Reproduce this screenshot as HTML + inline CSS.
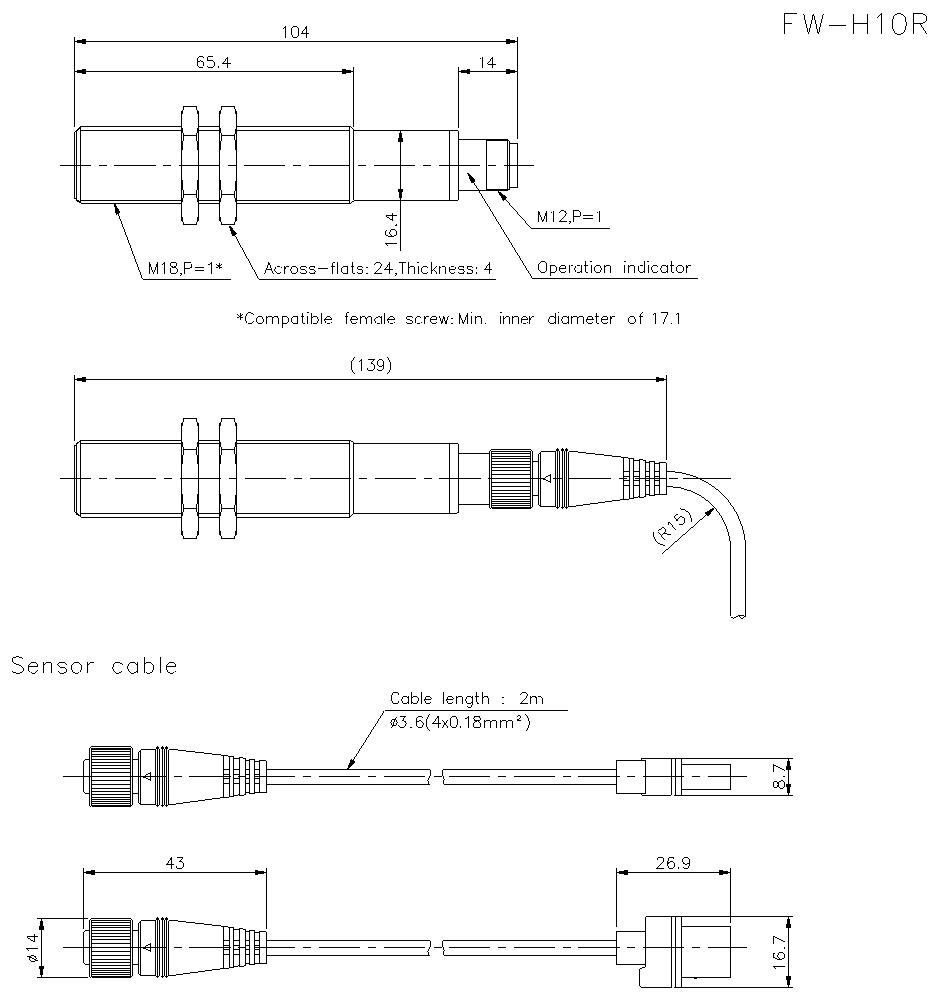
<!DOCTYPE html>
<html><head><meta charset="utf-8"><title>FW-H10R</title>
<style>
html,body{margin:0;padding:0;background:#fff;font-family:"Liberation Sans",sans-serif;overflow:hidden}
svg{display:block}
svg path,svg rect{fill:none;stroke:#000;stroke-width:0.99;stroke-linecap:butt;stroke-linejoin:miter}
svg .a{fill:#000;stroke:none}
svg circle.a{fill:#000;stroke:none}
</style></head><body>
<svg width="938" height="1000" viewBox="0 0 938 1000" shape-rendering="crispEdges">
<rect x="0" y="0" width="938" height="1000" style="fill:#fff;stroke:none"/>
<path d="M74.5,131.9 L80.5,126.4 L349.5,126.4 L353.5,130.3"/>
<path d="M76.5,129.5 L80.5,126.4"/>
<path d="M74.5,198.6 L80.5,203.2 L349.5,203.2 L353.5,200.3"/>
<path d="M76.5,201 L80.5,203.2"/>
<path d="M74.5,131.9 L74.5,198.6"/>
<path d="M76.5,129.5 L76.5,201"/>
<path d="M80.5,126.4 L80.5,203.2"/>
<path d="M80.5,130.3 L349.5,130.3"/>
<path d="M80.5,200.2 L349.5,200.2"/>
<path d="M349.5,126.4 L349.5,203.2"/>
<path d="M353.5,130.3 L353.5,200.3"/>
<path d="M353.5,130.3 L456.8,130.3 Q458.6,130.3 458.6,132.1 L458.6,198.5 Q458.6,200.3 456.8,200.3 L353.5,200.3"/>
<path d="M449.6,130.3 L449.6,200.3"/>
<path style="fill:#fff;stroke:none" d="M183.5,106.5 H196.5 L198.5,110.5 V220.5 L196.5,224.5 H183.5 L181.5,220.5 V110.5 Z"/>
<path d="M183,106.5 L197,106.5"/>
<path d="M183,224.5 L197,224.5"/>
<path d="M181.5,110.5 L181.5,220.5"/>
<path d="M198.5,110.5 L198.5,220.5"/>
<path d="M184,135.5 L196,135.5"/>
<path d="M184,194.5 L196,194.5"/>
<path d="M183.5,106.5 Q179.5,121 183.5,135.5"/>
<path d="M183.5,135.5 Q179.5,165 183.5,194.5"/>
<path d="M183.5,194.5 Q179.5,209.5 183.5,224.5"/>
<path d="M196.5,106.5 Q200.5,121 196.5,135.5"/>
<path d="M196.5,135.5 Q200.5,165 196.5,194.5"/>
<path d="M196.5,194.5 Q200.5,209.5 196.5,224.5"/>
<path style="fill:#fff;stroke:none" d="M221.5,106.5 H234.6 L236.6,110.5 V220.5 L234.6,224.5 H221.5 L219.5,220.5 V110.5 Z"/>
<path d="M221,106.5 L235.1,106.5"/>
<path d="M221,224.5 L235.1,224.5"/>
<path d="M219.5,110.5 L219.5,220.5"/>
<path d="M236.6,110.5 L236.6,220.5"/>
<path d="M222,135.5 L234.1,135.5"/>
<path d="M222,194.5 L234.1,194.5"/>
<path d="M221.5,106.5 Q217.5,121 221.5,135.5"/>
<path d="M221.5,135.5 Q217.5,165 221.5,194.5"/>
<path d="M221.5,194.5 Q217.5,209.5 221.5,224.5"/>
<path d="M234.6,106.5 Q238.6,121 234.6,135.5"/>
<path d="M234.6,135.5 Q238.6,165 234.6,194.5"/>
<path d="M234.6,194.5 Q238.6,209.5 234.6,224.5"/>
<path d="M458.6,139.5 L486.4,139.5"/>
<path d="M458.6,190.4 L486.4,190.4"/>
<path d="M486.4,139.5 L508,139.5 L509.5,141 L509.5,189 L508,190.4 L486.4,190.4 Z"/>
<path d="M486.4,140.7 L508.6,140.7"/>
<path d="M486.4,189.2 L508.6,189.2"/>
<path d="M507.7,139.5 L507.7,190.4"/>
<path d="M509.5,143.2 L517.6,143.2 L517.6,187.4 L509.5,187.4"/>
<path class="c" stroke-dasharray="41.1 7.9 8 7.9" stroke-dashoffset="10.5" d="M60,165.4 L534,165.4"/>
<path d="M74.3,37 L74.3,127.3"/>
<path d="M517.5,37 L517.5,138.7"/>
<path d="M74.3,41.3 L517.5,41.3"/>
<path class="a" d="M76.8,40 L82.3,40 L82.3,39 L85.6,39 L85.6,44 L82.3,44 L82.3,43 L76.8,43 Z"/>
<path class="a" d="M515,43 L509.5,43 L509.5,44 L506.2,44 L506.2,39 L509.5,39 L509.5,40 L515,40 Z"/>
<path d="M353.5,67 L353.5,126.5"/>
<path d="M74.3,71.3 L353.5,71.3"/>
<path class="a" d="M76.8,70 L82.3,70 L82.3,69 L85.6,69 L85.6,74 L82.3,74 L82.3,73 L76.8,73 Z"/>
<path class="a" d="M351,73 L345.5,73 L345.5,74 L342.2,74 L342.2,69 L345.5,69 L345.5,70 L351,70 Z"/>
<path d="M458.5,67 L458.5,127.5"/>
<path d="M458.5,71.4 L517.5,71.4"/>
<path class="a" d="M461,70 L466.5,70 L466.5,69 L469.8,69 L469.8,74 L466.5,74 L466.5,73 L461,73 Z"/>
<path class="a" d="M515,73 L509.5,73 L509.5,74 L506.2,74 L506.2,69 L509.5,69 L509.5,70 L515,70 Z"/>
<path class="t" stroke-width="0.99" d="M283.1,28.49 L284.16,27.96 L285.75,26.37 L285.75,37.5 M294.61,26.37 L293.02,26.9 L291.96,28.49 L291.43,31.14 L291.43,32.73 L291.96,35.38 L293.02,36.97 L294.61,37.5 L295.67,37.5 L297.26,36.97 L298.32,35.38 L298.85,32.73 L298.85,31.14 L298.32,28.49 L297.26,26.9 L295.67,26.37 L294.61,26.37 M306.65,26.37 L301.35,33.79 L309.3,33.79 M306.65,26.37 L306.65,37.5"/>
<path class="t" stroke-width="0.99" d="M203.46,58.16 L202.93,57.1 L201.34,56.57 L200.28,56.57 L198.69,57.1 L197.63,58.69 L197.1,61.34 L197.1,63.99 L197.63,66.11 L198.69,67.17 L200.28,67.7 L200.81,67.7 L202.4,67.17 L203.46,66.11 L203.99,64.52 L203.99,63.99 L203.46,62.4 L202.4,61.34 L200.81,60.81 L200.28,60.81 L198.69,61.34 L197.63,62.4 L197.1,63.99 M213.36,56.57 L208.06,56.57 L207.53,61.34 L208.06,60.81 L209.65,60.28 L211.24,60.28 L212.83,60.81 L213.89,61.87 L214.42,63.46 L214.42,64.52 L213.89,66.11 L212.83,67.17 L211.24,67.7 L209.65,67.7 L208.06,67.17 L207.53,66.64 L207,65.58 M218.22,66.85 L218.75,66.85 L218.75,67.7 L218.22,67.7 L218.22,66.85 M227.85,56.57 L222.55,63.99 L230.5,63.99 M227.85,56.57 L227.85,67.7"/>
<path class="t" stroke-width="0.99" d="M480.3,58.79 L481.36,58.26 L482.95,56.67 L482.95,67.8 M492.85,56.67 L487.55,64.09 L495.5,64.09 M492.85,56.67 L492.85,67.8"/>
<path d="M400.6,130.3 L400.6,250.7"/>
<path class="a" d="M402,132.8 L402,138.3 L403,138.3 L403,141.6 L398,141.6 L398,138.3 L399,138.3 L399,132.8 Z"/>
<path class="a" d="M399,197.8 L399,192.3 L398,192.3 L398,189 L403,189 L403,192.3 L402,192.3 L402,197.8 Z"/>
<path class="t" stroke-width="0.99" transform="translate(396.7,249.1) rotate(-90)" d="M3.18,-9.01 L4.24,-9.54 L5.83,-11.13 L5.83,0 M19.08,-9.54 L18.55,-10.6 L16.96,-11.13 L15.9,-11.13 L14.31,-10.6 L13.25,-9.01 L12.72,-6.36 L12.72,-3.71 L13.25,-1.59 L14.31,-0.53 L15.9,0 L16.43,0 L18.02,-0.53 L19.08,-1.59 L19.61,-3.18 L19.61,-3.71 L19.08,-5.3 L18.02,-6.36 L16.43,-6.89 L15.9,-6.89 L14.31,-6.36 L13.25,-5.3 L12.72,-3.71 M23.59,-0.85 L24.12,-0.85 L24.12,0 L23.59,0 L23.59,-0.85 M33.39,-11.13 L28.09,-3.71 L36.04,-3.71 M33.39,-11.13 L33.39,0"/>
<path d="M114.5,203.8 L142.5,279"/>
<path d="M142.5,279 L231,279"/>
<path class="a" d="M115.06,203.59 L120.71,213.01 L115.83,214.83 L113.94,204.01 Z"/>
<path class="t" stroke-width="0.99" d="M149.3,262.47 L149.3,273.6 M149.3,262.47 L153.54,273.6 M157.78,262.47 L153.54,273.6 M157.78,262.47 L157.78,273.6 M162.07,264.59 L163.13,264.06 L164.72,262.47 L164.72,273.6 M172.71,262.47 L171.12,263 L170.59,264.06 L170.59,265.12 L171.12,266.18 L172.18,266.71 L174.3,267.24 L175.89,267.77 L176.95,268.83 L177.48,269.89 L177.48,271.48 L176.95,272.54 L176.42,273.07 L174.83,273.6 L172.71,273.6 L171.12,273.07 L170.59,272.54 L170.06,271.48 L170.06,269.89 L170.59,268.83 L171.65,267.77 L173.24,267.24 L175.36,266.71 L176.42,266.18 L176.95,265.12 L176.95,264.06 L176.42,263 L174.83,262.47 L172.71,262.47 M181.24,273.07 L180.71,273.6 L180.18,273.07 L180.71,272.54 L181.24,273.07 L181.24,274.13 L180.71,275.19 L180.18,275.72 M184.46,262.47 L184.46,273.6 M184.46,262.47 L189.23,262.47 L190.82,263 L191.35,263.53 L191.88,264.59 L191.88,266.18 L191.35,267.24 L190.82,267.77 L189.23,268.3 L184.46,268.3 M194.58,267.24 L204.12,267.24 M194.58,270.42 L204.12,270.42 M208.4,264.59 L209.46,264.06 L211.05,262.47 L211.05,273.6 M219.05,263 L219.05,269.36 M216.4,264.59 L221.7,267.77 M221.7,264.59 L216.4,267.77"/>
<path d="M229.5,225.6 L258.7,279"/>
<path d="M258.7,279 L495.8,279"/>
<path class="a" d="M230.03,225.31 L236.96,233.83 L232.4,236.32 L228.97,225.89 Z"/>
<path class="t" stroke-width="0.99" d="M268.94,262.47 L264.7,273.6 M268.94,262.47 L273.18,273.6 M266.29,269.89 L271.59,269.89 M281.34,267.77 L280.28,266.71 L279.22,266.18 L277.63,266.18 L276.57,266.71 L275.51,267.77 L274.98,269.36 L274.98,270.42 L275.51,272.01 L276.57,273.07 L277.63,273.6 L279.22,273.6 L280.28,273.07 L281.34,272.01 M284.73,266.18 L284.73,273.6 M284.73,269.36 L285.26,267.77 L286.32,266.71 L287.38,266.18 L288.97,266.18 M293.41,266.18 L292.35,266.71 L291.29,267.77 L290.76,269.36 L290.76,270.42 L291.29,272.01 L292.35,273.07 L293.41,273.6 L295,273.6 L296.06,273.07 L297.12,272.01 L297.65,270.42 L297.65,269.36 L297.12,267.77 L296.06,266.71 L295,266.18 L293.41,266.18 M306.34,267.77 L305.81,266.71 L304.22,266.18 L302.63,266.18 L301.04,266.71 L300.51,267.77 L301.04,268.83 L302.1,269.36 L304.75,269.89 L305.81,270.42 L306.34,271.48 L306.34,272.01 L305.81,273.07 L304.22,273.6 L302.63,273.6 L301.04,273.07 L300.51,272.01 M315.03,267.77 L314.5,266.71 L312.91,266.18 L311.32,266.18 L309.73,266.71 L309.2,267.77 L309.73,268.83 L310.79,269.36 L313.44,269.89 L314.5,270.42 L315.03,271.48 L315.03,272.01 L314.5,273.07 L312.91,273.6 L311.32,273.6 L309.73,273.07 L309.2,272.01 M318.42,268.83 L327.96,268.83 M335.06,262.47 L334,262.47 L332.94,263 L332.41,264.59 L332.41,273.6 M330.82,266.18 L334.53,266.18 M337.91,262.47 L337.91,273.6 M347.66,266.18 L347.66,273.6 M347.66,267.77 L346.6,266.71 L345.54,266.18 L343.95,266.18 L342.89,266.71 L341.83,267.77 L341.3,269.36 L341.3,270.42 L341.83,272.01 L342.89,273.07 L343.95,273.6 L345.54,273.6 L346.6,273.07 L347.66,272.01 M352.11,262.47 L352.11,271.48 L352.64,273.07 L353.7,273.6 L354.76,273.6 M350.52,266.18 L354.23,266.18 M362.92,267.77 L362.39,266.71 L360.8,266.18 L359.21,266.18 L357.62,266.71 L357.09,267.77 L357.62,268.83 L358.68,269.36 L361.33,269.89 L362.39,270.42 L362.92,271.48 L362.92,272.01 L362.39,273.07 L360.8,273.6 L359.21,273.6 L357.62,273.07 L357.09,272.01 M366.57,267.45 L367.1,267.45 L367.1,268.3 L366.57,268.3 L366.57,267.45 M366.57,272.75 L367.1,272.75 L367.1,273.6 L366.57,273.6 L366.57,272.75"/>
<path class="t" stroke-width="0.99" d="M374.93,265.12 L374.93,264.59 L375.46,263.53 L375.99,263 L377.05,262.47 L379.17,262.47 L380.23,263 L380.76,263.53 L381.29,264.59 L381.29,265.65 L380.76,266.71 L379.7,268.3 L374.4,273.6 L381.82,273.6 M389.94,262.47 L384.64,269.89 L392.59,269.89 M389.94,262.47 L389.94,273.6 M396.47,273.07 L395.94,273.6 L395.41,273.07 L395.94,272.54 L396.47,273.07 L396.47,274.13 L395.94,275.19 L395.41,275.72 M402.48,262.47 L402.48,273.6 M398.77,262.47 L406.19,262.47 M408.48,262.47 L408.48,273.6 M408.48,268.3 L410.07,266.71 L411.13,266.18 L412.72,266.18 L413.78,266.71 L414.31,268.3 L414.31,273.6 M417.66,262.47 L418.19,263 L418.72,262.47 L418.19,261.94 L417.66,262.47 M418.19,266.18 L418.19,273.6 M427.9,267.77 L426.84,266.71 L425.78,266.18 L424.19,266.18 L423.13,266.71 L422.07,267.77 L421.54,269.36 L421.54,270.42 L422.07,272.01 L423.13,273.07 L424.19,273.6 L425.78,273.6 L426.84,273.07 L427.9,272.01 M431.25,262.47 L431.25,273.6 M436.55,266.18 L431.25,271.48 M433.37,269.36 L437.08,273.6 M439.91,266.18 L439.91,273.6 M439.91,268.3 L441.5,266.71 L442.56,266.18 L444.15,266.18 L445.21,266.71 L445.74,268.3 L445.74,273.6 M449.09,269.36 L455.45,269.36 L455.45,268.3 L454.92,267.24 L454.39,266.71 L453.33,266.18 L451.74,266.18 L450.68,266.71 L449.62,267.77 L449.09,269.36 L449.09,270.42 L449.62,272.01 L450.68,273.07 L451.74,273.6 L453.33,273.6 L454.39,273.07 L455.45,272.01 M464.1,267.77 L463.57,266.71 L461.98,266.18 L460.39,266.18 L458.8,266.71 L458.27,267.77 L458.8,268.83 L459.86,269.36 L462.51,269.89 L463.57,270.42 L464.1,271.48 L464.1,272.01 L463.57,273.07 L461.98,273.6 L460.39,273.6 L458.8,273.07 L458.27,272.01 M472.75,267.77 L472.22,266.71 L470.63,266.18 L469.04,266.18 L467.45,266.71 L466.92,267.77 L467.45,268.83 L468.51,269.36 L471.16,269.89 L472.22,270.42 L472.75,271.48 L472.75,272.01 L472.22,273.07 L470.63,273.6 L469.04,273.6 L467.45,273.07 L466.92,272.01 M476.37,267.45 L476.9,267.45 L476.9,268.3 L476.37,268.3 L476.37,267.45 M476.37,272.75 L476.9,272.75 L476.9,273.6 L476.37,273.6 L476.37,272.75"/>
<path class="t" stroke-width="0.99" d="M489.8,262.47 L484.5,269.89 L492.45,269.89 M489.8,262.47 L489.8,273.6"/>
<path d="M498.1,191.2 L531.2,228.4"/>
<path d="M531.2,228.4 L610,228.4"/>
<path class="a" d="M498.55,190.8 L507.22,197.54 L503.34,201 L497.65,191.6 Z"/>
<path class="t" stroke-width="0.99" d="M538.5,210.77 L538.5,221.9 M538.5,210.77 L542.74,221.9 M546.98,210.77 L542.74,221.9 M546.98,210.77 L546.98,221.9 M551.19,212.89 L552.25,212.36 L553.84,210.77 L553.84,221.9 M559.64,213.42 L559.64,212.89 L560.17,211.83 L560.7,211.3 L561.76,210.77 L563.88,210.77 L564.94,211.3 L565.47,211.83 L566,212.89 L566,213.95 L565.47,215.01 L564.41,216.6 L559.11,221.9 L566.53,221.9 M570.21,221.37 L569.68,221.9 L569.15,221.37 L569.68,220.84 L570.21,221.37 L570.21,222.43 L569.68,223.49 L569.15,224.02 M573.36,210.77 L573.36,221.9 M573.36,210.77 L578.13,210.77 L579.72,211.3 L580.25,211.83 L580.78,212.89 L580.78,214.48 L580.25,215.54 L579.72,216.07 L578.13,216.6 L573.36,216.6 M583.4,215.54 L592.94,215.54 M583.4,218.72 L592.94,218.72 M597.15,212.89 L598.21,212.36 L599.8,210.77 L599.8,221.9"/>
<path d="M467.9,173 L532.4,278.3"/>
<path d="M532.4,278.3 L697.7,278.3"/>
<path class="a" d="M468.41,172.69 L475.76,180.85 L471.32,183.57 L467.39,173.31 Z"/>
<path class="t" stroke-width="0.99" d="M541.68,261.47 L540.62,262 L539.56,263.06 L539.03,264.12 L538.5,265.71 L538.5,268.36 L539.03,269.95 L539.56,271.01 L540.62,272.07 L541.68,272.6 L543.8,272.6 L544.86,272.07 L545.92,271.01 L546.45,269.95 L546.98,268.36 L546.98,265.71 L546.45,264.12 L545.92,263.06 L544.86,262 L543.8,261.47 L541.68,261.47 M550.26,265.18 L550.26,276.31 M550.26,266.77 L551.32,265.71 L552.38,265.18 L553.97,265.18 L555.03,265.71 L556.09,266.77 L556.62,268.36 L556.62,269.42 L556.09,271.01 L555.03,272.07 L553.97,272.6 L552.38,272.6 L551.32,272.07 L550.26,271.01 M559.37,268.36 L565.72,268.36 L565.72,267.3 L565.19,266.24 L564.66,265.71 L563.6,265.18 L562.01,265.18 L560.95,265.71 L559.89,266.77 L559.37,268.36 L559.37,269.42 L559.89,271.01 L560.95,272.07 L562.01,272.6 L563.6,272.6 L564.66,272.07 L565.72,271.01 M569,265.18 L569,272.6 M569,268.36 L569.53,266.77 L570.59,265.71 L571.65,265.18 L573.24,265.18 M581.29,265.18 L581.29,272.6 M581.29,266.77 L580.23,265.71 L579.17,265.18 L577.58,265.18 L576.52,265.71 L575.46,266.77 L574.93,268.36 L574.93,269.42 L575.46,271.01 L576.52,272.07 L577.58,272.6 L579.17,272.6 L580.23,272.07 L581.29,271.01 M585.63,261.47 L585.63,270.48 L586.16,272.07 L587.22,272.6 L588.28,272.6 M584.04,265.18 L587.75,265.18 M590.49,261.47 L591.02,262 L591.55,261.47 L591.02,260.94 L590.49,261.47 M591.02,265.18 L591.02,272.6 M596.95,265.18 L595.89,265.71 L594.83,266.77 L594.3,268.36 L594.3,269.42 L594.83,271.01 L595.89,272.07 L596.95,272.6 L598.54,272.6 L599.6,272.07 L600.66,271.01 L601.19,269.42 L601.19,268.36 L600.66,266.77 L599.6,265.71 L598.54,265.18 L596.95,265.18 M604.47,265.18 L604.47,272.6 M604.47,267.3 L606.06,265.71 L607.12,265.18 L608.71,265.18 L609.77,265.71 L610.3,267.3 L610.3,272.6"/>
<path class="t" stroke-width="0.99" d="M624.4,261.47 L624.93,262 L625.46,261.47 L624.93,260.94 L624.4,261.47 M624.93,265.18 L624.93,272.6 M628.83,265.18 L628.83,272.6 M628.83,267.3 L630.42,265.71 L631.48,265.18 L633.07,265.18 L634.13,265.71 L634.66,267.3 L634.66,272.6 M644.39,261.47 L644.39,272.6 M644.39,266.77 L643.33,265.71 L642.27,265.18 L640.68,265.18 L639.62,265.71 L638.56,266.77 L638.03,268.36 L638.03,269.42 L638.56,271.01 L639.62,272.07 L640.68,272.6 L642.27,272.6 L643.33,272.07 L644.39,271.01 M647.76,261.47 L648.29,262 L648.82,261.47 L648.29,260.94 L647.76,261.47 M648.29,265.18 L648.29,272.6 M658.01,266.77 L656.95,265.71 L655.89,265.18 L654.3,265.18 L653.25,265.71 L652.18,266.77 L651.65,268.36 L651.65,269.42 L652.18,271.01 L653.25,272.07 L654.3,272.6 L655.89,272.6 L656.95,272.07 L658.01,271.01 M667.21,265.18 L667.21,272.6 M667.21,266.77 L666.15,265.71 L665.09,265.18 L663.5,265.18 L662.44,265.71 L661.38,266.77 L660.85,268.36 L660.85,269.42 L661.38,271.01 L662.44,272.07 L663.5,272.6 L665.09,272.6 L666.15,272.07 L667.21,271.01 M671.64,261.47 L671.64,270.48 L672.17,272.07 L673.23,272.6 L674.29,272.6 M670.05,265.18 L673.76,265.18 M679.25,265.18 L678.19,265.71 L677.13,266.77 L676.6,268.36 L676.6,269.42 L677.13,271.01 L678.19,272.07 L679.25,272.6 L680.84,272.6 L681.9,272.07 L682.96,271.01 L683.49,269.42 L683.49,268.36 L682.96,266.77 L681.9,265.71 L680.84,265.18 L679.25,265.18 M686.86,265.18 L686.86,272.6 M686.86,268.36 L687.39,266.77 L688.45,265.71 L689.51,265.18 L691.1,265.18"/>
<path class="t" stroke-width="0.99" d="M240.05,313.3 L240.05,319.66 M237.4,314.89 L242.7,318.07 M242.7,314.89 L237.4,318.07 M253.52,315.42 L252.99,314.36 L251.93,313.3 L250.87,312.77 L248.75,312.77 L247.69,313.3 L246.63,314.36 L246.1,315.42 L245.57,317.01 L245.57,319.66 L246.1,321.25 L246.63,322.31 L247.69,323.37 L248.75,323.9 L250.87,323.9 L251.93,323.37 L252.99,322.31 L253.52,321.25 M259.04,316.48 L257.98,317.01 L256.92,318.07 L256.39,319.66 L256.39,320.72 L256.92,322.31 L257.98,323.37 L259.04,323.9 L260.63,323.9 L261.69,323.37 L262.75,322.31 L263.28,320.72 L263.28,319.66 L262.75,318.07 L261.69,317.01 L260.63,316.48 L259.04,316.48 M266.68,316.48 L266.68,323.9 M266.68,318.6 L268.27,317.01 L269.33,316.48 L270.92,316.48 L271.98,317.01 L272.51,318.6 L272.51,323.9 M272.51,318.6 L274.1,317.01 L275.16,316.48 L276.75,316.48 L277.81,317.01 L278.34,318.6 L278.34,323.9 M282.27,316.48 L282.27,327.61 M282.27,318.07 L283.33,317.01 L284.39,316.48 L285.98,316.48 L287.04,317.01 L288.1,318.07 L288.63,319.66 L288.63,320.72 L288.1,322.31 L287.04,323.37 L285.98,323.9 L284.39,323.9 L283.33,323.37 L282.27,322.31 M297.87,316.48 L297.87,323.9 M297.87,318.07 L296.81,317.01 L295.75,316.48 L294.16,316.48 L293.1,317.01 L292.04,318.07 L291.5,319.66 L291.5,320.72 L292.04,322.31 L293.1,323.37 L294.16,323.9 L295.75,323.9 L296.81,323.37 L297.87,322.31 M302.33,312.77 L302.33,321.78 L302.86,323.37 L303.92,323.9 L304.98,323.9 M300.74,316.48 L304.45,316.48 M307.32,312.77 L307.85,313.3 L308.38,312.77 L307.85,312.24 L307.32,312.77 M307.85,316.48 L307.85,323.9 M311.78,312.77 L311.78,323.9 M311.78,318.07 L312.84,317.01 L313.9,316.48 L315.49,316.48 L316.55,317.01 L317.61,318.07 L318.14,319.66 L318.14,320.72 L317.61,322.31 L316.55,323.37 L315.49,323.9 L313.9,323.9 L312.84,323.37 L311.78,322.31 M321.54,312.77 L321.54,323.9 M324.94,319.66 L331.3,319.66 L331.3,318.6 L330.77,317.54 L330.24,317.01 L329.18,316.48 L327.59,316.48 L326.53,317.01 L325.47,318.07 L324.94,319.66 L324.94,320.72 L325.47,322.31 L326.53,323.37 L327.59,323.9 L329.18,323.9 L330.24,323.37 L331.3,322.31"/>
<path class="t" stroke-width="0.99" d="M348.74,312.77 L347.68,312.77 L346.62,313.3 L346.09,314.89 L346.09,323.9 M344.5,316.48 L348.21,316.48 M350.75,319.66 L357.11,319.66 L357.11,318.6 L356.58,317.54 L356.05,317.01 L354.99,316.48 L353.4,316.48 L352.34,317.01 L351.28,318.07 L350.75,319.66 L350.75,320.72 L351.28,322.31 L352.34,323.37 L353.4,323.9 L354.99,323.9 L356.05,323.37 L357.11,322.31 M360.18,316.48 L360.18,323.9 M360.18,318.6 L361.77,317.01 L362.83,316.48 L364.42,316.48 L365.48,317.01 L366.01,318.6 L366.01,323.9 M366.01,318.6 L367.6,317.01 L368.66,316.48 L370.25,316.48 L371.31,317.01 L371.84,318.6 L371.84,323.9 M381.27,316.48 L381.27,323.9 M381.27,318.07 L380.21,317.01 L379.15,316.48 L377.56,316.48 L376.5,317.01 L375.44,318.07 L374.91,319.66 L374.91,320.72 L375.44,322.31 L376.5,323.37 L377.56,323.9 L379.15,323.9 L380.21,323.37 L381.27,322.31 M384.87,312.77 L384.87,323.9 M387.94,319.66 L394.3,319.66 L394.3,318.6 L393.77,317.54 L393.24,317.01 L392.18,316.48 L390.59,316.48 L389.53,317.01 L388.47,318.07 L387.94,319.66 L387.94,320.72 L388.47,322.31 L389.53,323.37 L390.59,323.9 L392.18,323.9 L393.24,323.37 L394.3,322.31"/>
<path class="t" stroke-width="0.99" d="M412.33,318.07 L411.8,317.01 L410.21,316.48 L408.62,316.48 L407.03,317.01 L406.5,318.07 L407.03,319.13 L408.09,319.66 L410.74,320.19 L411.8,320.72 L412.33,321.78 L412.33,322.31 L411.8,323.37 L410.21,323.9 L408.62,323.9 L407.03,323.37 L406.5,322.31 M421.4,318.07 L420.34,317.01 L419.28,316.48 L417.69,316.48 L416.63,317.01 L415.57,318.07 L415.04,319.66 L415.04,320.72 L415.57,322.31 L416.63,323.37 L417.69,323.9 L419.28,323.9 L420.34,323.37 L421.4,322.31 M424.63,316.48 L424.63,323.9 M424.63,319.66 L425.16,318.07 L426.22,317.01 L427.28,316.48 L428.87,316.48 M430.52,319.66 L436.88,319.66 L436.88,318.6 L436.35,317.54 L435.82,317.01 L434.76,316.48 L433.17,316.48 L432.11,317.01 L431.05,318.07 L430.52,319.66 L430.52,320.72 L431.05,322.31 L432.11,323.37 L433.17,323.9 L434.76,323.9 L435.82,323.37 L436.88,322.31 M439.59,316.48 L441.71,323.9 M443.83,316.48 L441.71,323.9 M443.83,316.48 L445.95,323.9 M448.07,316.48 L445.95,323.9 M451.57,317.75 L452.1,317.75 L452.1,318.6 L451.57,318.6 L451.57,317.75 M451.57,323.05 L452.1,323.05 L452.1,323.9 L451.57,323.9 L451.57,323.05"/>
<path class="t" stroke-width="0.99" d="M459.2,312.77 L459.2,323.9 M459.2,312.77 L463.44,323.9 M467.68,312.77 L463.44,323.9 M467.68,312.77 L467.68,323.9 M470.98,312.77 L471.51,313.3 L472.04,312.77 L471.51,312.24 L470.98,312.77 M471.51,316.48 L471.51,323.9 M475.34,316.48 L475.34,323.9 M475.34,318.6 L476.93,317.01 L477.99,316.48 L479.58,316.48 L480.64,317.01 L481.17,318.6 L481.17,323.9 M485.27,323.05 L485.8,323.05 L485.8,323.9 L485.27,323.9 L485.27,323.05"/>
<path class="t" stroke-width="0.99" d="M500.4,312.77 L500.93,313.3 L501.46,312.77 L500.93,312.24 L500.4,312.77 M500.93,316.48 L500.93,323.9 M503.95,316.48 L503.95,323.9 M503.95,318.6 L505.54,317.01 L506.6,316.48 L508.19,316.48 L509.25,317.01 L509.78,318.6 L509.78,323.9 M512.8,316.48 L512.8,323.9 M512.8,318.6 L514.38,317.01 L515.45,316.48 L517.04,316.48 L518.1,317.01 L518.62,318.6 L518.62,323.9 M521.11,319.66 L527.47,319.66 L527.47,318.6 L526.94,317.54 L526.41,317.01 L525.35,316.48 L523.76,316.48 L522.7,317.01 L521.64,318.07 L521.11,319.66 L521.11,320.72 L521.64,322.31 L522.7,323.37 L523.76,323.9 L525.35,323.9 L526.41,323.37 L527.47,322.31 M529.96,316.48 L529.96,323.9 M529.96,319.66 L530.49,318.07 L531.55,317.01 L532.61,316.48 L534.2,316.48"/>
<path class="t" stroke-width="0.99" d="M555.06,312.77 L555.06,323.9 M555.06,318.07 L554,317.01 L552.94,316.48 L551.35,316.48 L550.29,317.01 L549.23,318.07 L548.7,319.66 L548.7,320.72 L549.23,322.31 L550.29,323.37 L551.35,323.9 L552.94,323.9 L554,323.37 L555.06,322.31 M558.19,312.77 L558.72,313.3 L559.25,312.77 L558.72,312.24 L558.19,312.77 M558.72,316.48 L558.72,323.9 M568.2,316.48 L568.2,323.9 M568.2,318.07 L567.14,317.01 L566.08,316.48 L564.49,316.48 L563.43,317.01 L562.37,318.07 L561.84,319.66 L561.84,320.72 L562.37,322.31 L563.43,323.37 L564.49,323.9 L566.08,323.9 L567.14,323.37 L568.2,322.31 M571.86,316.48 L571.86,323.9 M571.86,318.6 L573.45,317.01 L574.51,316.48 L576.1,316.48 L577.16,317.01 L577.69,318.6 L577.69,323.9 M577.69,318.6 L579.28,317.01 L580.34,316.48 L581.93,316.48 L582.99,317.01 L583.52,318.6 L583.52,323.9 M586.64,319.66 L593,319.66 L593,318.6 L592.47,317.54 L591.94,317.01 L590.88,316.48 L589.29,316.48 L588.23,317.01 L587.17,318.07 L586.64,319.66 L586.64,320.72 L587.17,322.31 L588.23,323.37 L589.29,323.9 L590.88,323.9 L591.94,323.37 L593,322.31 M596.66,312.77 L596.66,321.78 L597.19,323.37 L598.25,323.9 L599.31,323.9 M595.07,316.48 L598.78,316.48 M601.37,319.66 L607.73,319.66 L607.73,318.6 L607.2,317.54 L606.67,317.01 L605.61,316.48 L604.02,316.48 L602.96,317.01 L601.9,318.07 L601.37,319.66 L601.37,320.72 L601.9,322.31 L602.96,323.37 L604.02,323.9 L605.61,323.9 L606.67,323.37 L607.73,322.31 M610.86,316.48 L610.86,323.9 M610.86,319.66 L611.39,318.07 L612.45,317.01 L613.51,316.48 L615.1,316.48"/>
<path class="t" stroke-width="0.99" d="M631.05,316.48 L629.99,317.01 L628.93,318.07 L628.4,319.66 L628.4,320.72 L628.93,322.31 L629.99,323.37 L631.05,323.9 L632.64,323.9 L633.7,323.37 L634.76,322.31 L635.29,320.72 L635.29,319.66 L634.76,318.07 L633.7,317.01 L632.64,316.48 L631.05,316.48 M643.3,312.77 L642.24,312.77 L641.18,313.3 L640.65,314.89 L640.65,323.9 M639.06,316.48 L642.77,316.48"/>
<path class="t" stroke-width="0.99" d="M652.9,314.89 L653.96,314.36 L655.55,312.77 L655.55,323.9 M668.18,312.77 L662.88,323.9 M660.76,312.77 L668.18,312.77 M671.01,323.05 L671.54,323.05 L671.54,323.9 L671.01,323.9 L671.01,323.05 M675.95,314.89 L677.01,314.36 L678.6,312.77 L678.6,323.9"/>
<path class="t" stroke-width="0.99" d="M784,13.61 L784,34.3 M784,13.61 L796.8,13.61 M784,23.46 L791.88,23.46"/>
<path class="t" stroke-width="0.99" d="M803.6,13.61 L808.52,34.3 M813.45,13.61 L808.52,34.3 M813.45,13.61 L818.38,34.3 M823.3,13.61 L818.38,34.3 M828.62,25.43 L846.35,25.43 M853.63,13.61 L853.63,34.3 M867.42,13.61 L867.42,34.3 M853.63,23.46 L867.42,23.46 M876.67,17.55 L878.64,16.57 L881.6,13.61 L881.6,34.3"/>
<path class="t" stroke-width="0.99" d="M898.21,13.61 L895.25,14.6 L893.28,17.55 L892.3,22.48 L892.3,25.43 L893.28,30.36 L895.25,33.31 L898.21,34.3 L900.18,34.3 L903.13,33.31 L905.1,30.36 L906.09,25.43 L906.09,22.48 L905.1,17.55 L903.13,14.6 L900.18,13.61 L898.21,13.61 M913.01,13.61 L913.01,34.3 M913.01,13.61 L921.87,13.61 L924.83,14.6 L925.81,15.58 L926.8,17.55 L926.8,19.52 L925.81,21.49 L924.83,22.48 L921.87,23.46 L913.01,23.46 M919.9,23.46 L926.8,34.3"/>
<path d="M74.5,445.1 L80.5,440.3 L349.5,440.3 L353.5,443.3"/>
<path d="M76.5,442.7 L80.5,440.3"/>
<path d="M74.5,512.3 L80.5,517.3 L349.5,517.3 L353.5,513.2"/>
<path d="M76.5,514.7 L80.5,517.3"/>
<path d="M74.5,445.1 L74.5,512.3"/>
<path d="M76.5,442.7 L76.5,514.7"/>
<path d="M80.5,440.3 L80.5,517.3"/>
<path d="M80.5,443.5 L349.5,443.5"/>
<path d="M80.5,513.9 L349.5,513.9"/>
<path d="M349.5,440.3 L349.5,517.3"/>
<path d="M353.5,443.3 L353.5,513.2"/>
<path d="M353.5,443.3 L456.8,443.3 Q458.6,443.3 458.6,445.1 L458.6,511.4 Q458.6,513.2 456.8,513.2 L353.5,513.2"/>
<path d="M449.6,443.3 L449.6,513.2"/>
<path style="fill:#fff;stroke:none" d="M183.5,418.5 H196.5 L198.5,422.5 V534.5 L196.5,538.5 H183.5 L181.5,534.5 V422.5 Z"/>
<path d="M183,418.5 L197,418.5"/>
<path d="M183,538.5 L197,538.5"/>
<path d="M181.5,422.5 L181.5,534.5"/>
<path d="M198.5,422.5 L198.5,534.5"/>
<path d="M184,449.5 L196,449.5"/>
<path d="M184,508.5 L196,508.5"/>
<path d="M183.5,418.5 Q179.5,434 183.5,449.5"/>
<path d="M183.5,449.5 Q179.5,479 183.5,508.5"/>
<path d="M183.5,508.5 Q179.5,523.5 183.5,538.5"/>
<path d="M196.5,418.5 Q200.5,434 196.5,449.5"/>
<path d="M196.5,449.5 Q200.5,479 196.5,508.5"/>
<path d="M196.5,508.5 Q200.5,523.5 196.5,538.5"/>
<path style="fill:#fff;stroke:none" d="M221.5,418.5 H234.6 L236.6,422.5 V534.5 L234.6,538.5 H221.5 L219.5,534.5 V422.5 Z"/>
<path d="M221,418.5 L235.1,418.5"/>
<path d="M221,538.5 L235.1,538.5"/>
<path d="M219.5,422.5 L219.5,534.5"/>
<path d="M236.6,422.5 L236.6,534.5"/>
<path d="M222,449.5 L234.1,449.5"/>
<path d="M222,508.5 L234.1,508.5"/>
<path d="M221.5,418.5 Q217.5,434 221.5,449.5"/>
<path d="M221.5,449.5 Q217.5,479 221.5,508.5"/>
<path d="M221.5,508.5 Q217.5,523.5 221.5,538.5"/>
<path d="M234.6,418.5 Q238.6,434 234.6,449.5"/>
<path d="M234.6,449.5 Q238.6,479 234.6,508.5"/>
<path d="M234.6,508.5 Q238.6,523.5 234.6,538.5"/>
<path d="M458.6,453.4 L489.4,453.4"/>
<path d="M458.6,504.5 L489.4,504.5"/>
<path d="M491.9,449.1 L530.1,449.1 L532.5,451.5 L532.5,506.5 L530.1,508.9 L491.9,508.9 L489.5,506.5 L489.5,451.5 Z"/>
<path d="M491.5,450.6 L491.5,507.5"/>
<path d="M530.5,450.6 L530.5,507.5"/>
<path d="M492,474.5 H530 M492,470.5 H530 M492,467.5 H530 M492,464.5 H530 M492,461.5 H530 M492,458.5 H530 M492,456.5 H530 M492,453.5 H530 M492,451.5 H530 M492,482.5 H530 M492,486.5 H530 M492,490.5 H530 M492,493.5 H530 M492,496.5 H530 M492,499.5 H530 M492,501.5 H530 M492,503.5 H530 M492,505.5 H530 M492,507.5 H530"/>
<path d="M533,461.5 L538.5,461.5"/>
<path d="M533,495.5 L538.5,495.5"/>
<path d="M555.5,451.5 L540.9,451.5 L538.5,453.9 L538.5,504.1 L540.9,506.5 L555.5,506.5"/>
<path d="M540.5,452 L540.5,506"/>
<path d="M555.5,451.5 L555.5,506.5"/>
<path d="M557.5,448 L557.5,509"/>
<path class="a" d="M556,449h3v2h-3z M556,507h3v1h-3z"/>
<path d="M562.5,448 L562.5,509"/>
<path class="a" d="M561,449h3v2h-3z M561,507h3v1h-3z"/>
<path d="M566.5,448 L566.5,509"/>
<path class="a" d="M565,449h3v2h-3z M565,507h3v1h-3z"/>
<path d="M559.5,451 L559.5,507"/>
<path d="M564.5,451 L564.5,507"/>
<path d="M623.2,457.4 L572.5,451.5 L568.5,451.5 L568.5,506.5 L572,506.5 L623.2,499.5"/>
<path d="M543.8,478.5 L550.5,474.5 L550.5,482.5 Z"/>
<path class="a" d="M543,477.5h2v2h-2z"/>
<path d="M623.2,457.4 L623.2,457.4 L629.4,458.2 L629.4,458.3 L633.5,458.6 L633.5,460 L639.9,460.4 L639.9,459.4 L645,460.3 L645,462.2 L649.9,462.4 L649.9,461.2 L654.8,461.5 L654.8,463 L659.9,463.2 L659.9,462.3 L666.7,463.1 L666.7,494.1 L666.7,494.1 L659.9,494.9 L659.9,494 L654.8,494.2 L654.8,495.7 L649.9,496 L649.9,494.8 L645,495 L645,496.9 L639.9,497.8 L639.9,496.8 L633.5,497.2 L633.5,498.6 L629.4,498.9 L629.4,499 L623.2,499.8"/>
<path d="M623.2,457.4 L623.2,499.8"/>
<path d="M629.4,458.2 L629.4,499"/>
<path d="M633.5,458.6 L633.5,498.6"/>
<path d="M639.9,459.4 L639.9,497.8"/>
<path d="M645,460.3 L645,496.9"/>
<path d="M649.9,461.2 L649.9,496"/>
<path d="M654.8,461.5 L654.8,495.7"/>
<path d="M659.9,462.3 L659.9,494.9"/>
<path d="M666.7,463.1 L666.7,494.1"/>
<path d="M623.2,471.6 H629.4 M623.2,476.8 H629.4 M623.2,480.1 H629.4 M623.2,485.5 H629.4 M633.5,471.6 H639.9 M633.5,476.8 H639.9 M633.5,480.1 H639.9 M633.5,485.5 H639.9 M645,471.6 H649.9 M645,476.8 H649.9 M645,480.1 H649.9 M645,485.5 H649.9 M654.8,471.6 H659.9 M654.8,476.8 H659.9 M654.8,480.1 H659.9 M654.8,485.5 H659.9"/>
<path d="M666.9,486.4 A64,64 0 0 1 730.9,550.4 L730.9,616.4"/>
<path d="M666.9,471.5 A78.9,78.9 0 0 1 745.8,550.4 L745.8,616.4"/>
<path d="M730.6,616.4 L733.4,618.6 L736.5,616.4 L739,615.2 L744,615.2 M739,616.5 L741.5,618.6 L743.5,616.8 L745.7,616.4"/>
<path class="c" stroke-dasharray="41.1 7.9 8 7.9" stroke-dashoffset="10" d="M60,478.4 L488,478.4"/>
<path class="c" d="M488.4,478.4 H544 M553,478.4 H562 M569,478.4 H611"/>
<path class="c" d="M619,478.4 H627 M635,478.4 H667 M669,478.4 H677.5 M682.6,478.4 H731"/>
<path d="M74.3,375 L74.3,441"/>
<path d="M666.8,375 L666.8,459.8"/>
<path d="M74.3,379.4 L666.8,379.4"/>
<path class="a" d="M76.8,378 L82.3,378 L82.3,377 L85.6,377 L85.6,382 L82.3,382 L82.3,381 L76.8,381 Z"/>
<path class="a" d="M664.3,381 L658.8,381 L658.8,382 L655.5,382 L655.5,377 L658.8,377 L658.8,378 L664.3,378 Z"/>
<path class="t" stroke-width="0.99" d="M354.81,357.35 L353.75,358.41 L352.69,360 L351.63,362.12 L351.1,364.77 L351.1,366.89 L351.63,369.54 L352.69,371.66 L353.75,373.25 L354.81,374.31 M358.88,361.59 L359.94,361.06 L361.53,359.47 L361.53,370.6 M368.25,359.47 L374.08,359.47 L370.9,363.71 L372.49,363.71 L373.55,364.24 L374.08,364.77 L374.61,366.36 L374.61,367.42 L374.08,369.01 L373.02,370.07 L371.43,370.6 L369.84,370.6 L368.25,370.07 L367.72,369.54 L367.19,368.48 M383.98,363.18 L383.45,364.77 L382.39,365.83 L380.8,366.36 L380.27,366.36 L378.68,365.83 L377.62,364.77 L377.09,363.18 L377.09,362.65 L377.62,361.06 L378.68,360 L380.27,359.47 L380.8,359.47 L382.39,360 L383.45,361.06 L383.98,363.18 L383.98,365.83 L383.45,368.48 L382.39,370.07 L380.8,370.6 L379.74,370.6 L378.15,370.07 L377.62,369.01 M386.99,357.35 L388.05,358.41 L389.11,360 L390.17,362.12 L390.7,364.77 L390.7,366.89 L390.17,369.54 L389.11,371.66 L388.05,373.25 L386.99,374.31"/>
<path d="M662.1,553.8 L714.3,507.8"/>
<path class="a" d="M714.7,508.25 L707.92,516.89 L704.48,512.99 L713.9,507.35 Z"/>
<path class="t" stroke-width="0.99" transform="translate(656.48,547.42) rotate(-41.4)" d="M7.63,-13.25 L6.57,-12.19 L5.51,-10.6 L4.45,-8.48 L3.92,-5.83 L3.92,-3.71 L4.45,-1.06 L5.51,1.06 L6.57,2.65 L7.63,3.71 M11.34,-11.13 L11.34,0 M11.34,-11.13 L16.11,-11.13 L17.7,-10.6 L18.23,-10.07 L18.76,-9.01 L18.76,-7.95 L18.23,-6.89 L17.7,-6.36 L16.11,-5.83 L11.34,-5.83 M15.05,-5.83 L18.76,0 M23.53,-9.01 L24.59,-9.54 L26.18,-11.13 L26.18,0 M38.9,-11.13 L33.6,-11.13 L33.07,-6.36 L33.6,-6.89 L35.19,-7.42 L36.78,-7.42 L38.37,-6.89 L39.43,-5.83 L39.96,-4.24 L39.96,-3.18 L39.43,-1.59 L38.37,-0.53 L36.78,0 L35.19,0 L33.6,-0.53 L33.07,-1.06 L32.54,-2.12 M43.14,-13.25 L44.2,-12.19 L45.26,-10.6 L46.32,-8.48 L46.85,-5.83 L46.85,-3.71 L46.32,-1.06 L45.26,1.06 L44.2,2.65 L43.14,3.71"/>
<path class="t" stroke-width="0.99" d="M23.06,659.23 L21.51,657.68 L19.18,656.9 L16.08,656.9 L13.75,657.68 L12.2,659.23 L12.2,660.78 L12.98,662.34 L13.75,663.11 L15.3,663.89 L19.96,665.44 L21.51,666.22 L22.29,666.99 L23.06,668.54 L23.06,670.87 L21.51,672.42 L19.18,673.2 L16.08,673.2 L13.75,672.42 L12.2,670.87 M28.19,666.99 L37.5,666.99 L37.5,665.44 L36.73,663.89 L35.95,663.11 L34.4,662.34 L32.07,662.34 L30.52,663.11 L28.97,664.66 L28.19,666.99 L28.19,668.54 L28.97,670.87 L30.52,672.42 L32.07,673.2 L34.4,673.2 L35.95,672.42 L37.5,670.87 M43.4,662.34 L43.4,673.2 M43.4,665.44 L45.73,663.11 L47.28,662.34 L49.61,662.34 L51.16,663.11 L51.94,665.44 L51.94,673.2 M66.38,664.66 L65.6,663.11 L63.27,662.34 L60.94,662.34 L58.62,663.11 L57.84,664.66 L58.62,666.22 L60.17,666.99 L64.05,667.77 L65.6,668.54 L66.38,670.1 L66.38,670.87 L65.6,672.42 L63.27,673.2 L60.94,673.2 L58.62,672.42 L57.84,670.87 M75.38,662.34 L73.83,663.11 L72.28,664.66 L71.5,666.99 L71.5,668.54 L72.28,670.87 L73.83,672.42 L75.38,673.2 L77.71,673.2 L79.26,672.42 L80.81,670.87 L81.59,668.54 L81.59,666.99 L80.81,664.66 L79.26,663.11 L77.71,662.34 L75.38,662.34 M87.49,662.34 L87.49,673.2 M87.49,666.99 L88.27,664.66 L89.82,663.11 L91.37,662.34 L93.7,662.34"/>
<path class="t" stroke-width="0.99" d="M122.21,664.66 L120.66,663.11 L119.11,662.34 L116.78,662.34 L115.23,663.11 L113.68,664.66 L112.9,666.99 L112.9,668.54 L113.68,670.87 L115.23,672.42 L116.78,673.2 L119.11,673.2 L120.66,672.42 L122.21,670.87 M137.14,662.34 L137.14,673.2 M137.14,664.66 L135.58,663.11 L134.03,662.34 L131.7,662.34 L130.15,663.11 L128.6,664.66 L127.82,666.99 L127.82,668.54 L128.6,670.87 L130.15,672.42 L131.7,673.2 L134.03,673.2 L135.58,672.42 L137.14,670.87 M144.3,656.9 L144.3,673.2 M144.3,664.66 L145.85,663.11 L147.4,662.34 L149.73,662.34 L151.28,663.11 L152.84,664.66 L153.61,666.99 L153.61,668.54 L152.84,670.87 L151.28,672.42 L149.73,673.2 L147.4,673.2 L145.85,672.42 L144.3,670.87 M160,656.9 L160,673.2 M166.39,666.99 L175.7,666.99 L175.7,665.44 L174.92,663.89 L174.15,663.11 L172.6,662.34 L170.27,662.34 L168.72,663.11 L167.16,664.66 L166.39,666.99 L166.39,668.54 L167.16,670.87 L168.72,672.42 L170.27,673.2 L172.6,673.2 L174.15,672.42 L175.7,670.87"/>
<path d="M89.5,759.5 L86.1,759.5 L84.2,760.4 L83.5,762.3 L83.5,790.7 L84.2,792.6 L86.1,793.5 L89.5,793.5"/>
<path d="M91.9,746.1 L130.1,746.1 L132.5,748.5 L132.5,804.5 L130.1,806.9 L91.9,806.9 L89.5,804.5 L89.5,748.5 Z"/>
<path d="M91.5,747.6 L91.5,805.5"/>
<path d="M130.5,747.6 L130.5,805.5"/>
<path d="M92,772.5 H130 M92,768.5 H130 M92,765.5 H130 M92,762.5 H130 M92,759.5 H130 M92,756.5 H130 M92,754.5 H130 M92,751.5 H130 M92,749.5 H130 M92,748.5 H130 M92,780.5 H130 M92,784.5 H130 M92,788.5 H130 M92,791.5 H130 M92,794.5 H130 M92,797.5 H130 M92,799.5 H130 M92,801.5 H130 M92,803.5 H130 M92,805.5 H130"/>
<path d="M133,759.5 L138.5,759.5"/>
<path d="M133,793.5 L138.5,793.5"/>
<path d="M155.5,749.5 L140.9,749.5 L138.5,751.9 L138.5,802.1 L140.9,804.5 L155.5,804.5"/>
<path d="M140.5,750 L140.5,804"/>
<path d="M155.5,749.5 L155.5,804.5"/>
<path d="M157.5,746 L157.5,807"/>
<path class="a" d="M156,747h3v2h-3z M156,805h3v1h-3z"/>
<path d="M162.5,746 L162.5,807"/>
<path class="a" d="M161,747h3v2h-3z M161,805h3v1h-3z"/>
<path d="M166.5,746 L166.5,807"/>
<path class="a" d="M165,747h3v2h-3z M165,805h3v1h-3z"/>
<path d="M159.5,749 L159.5,805"/>
<path d="M164.5,749 L164.5,805"/>
<path d="M223.2,755.4 L172.5,749.5 L168.5,749.5 L168.5,804.5 L172,804.5 L223.2,797.5"/>
<path d="M143.8,776.5 L150.5,772.5 L150.5,780.5 Z"/>
<path class="a" d="M143,775.5h2v2h-2z"/>
<path d="M223.2,755.4 L223.2,755.4 L229.4,756.2 L229.4,756.3 L233.5,756.6 L233.5,758 L239.9,758.4 L239.9,757.4 L245,758.3 L245,760.2 L249.9,760.4 L249.9,759.2 L254.8,759.5 L254.8,761 L259.9,761.2 L259.9,760.3 L266.7,761.1 L266.7,792.1 L266.7,792.1 L259.9,792.9 L259.9,792 L254.8,792.2 L254.8,793.7 L249.9,794 L249.9,792.8 L245,793 L245,794.9 L239.9,795.8 L239.9,794.8 L233.5,795.2 L233.5,796.6 L229.4,796.9 L229.4,797 L223.2,797.8"/>
<path d="M223.2,755.4 L223.2,797.8"/>
<path d="M229.4,756.2 L229.4,797"/>
<path d="M233.5,756.6 L233.5,796.6"/>
<path d="M239.9,757.4 L239.9,795.8"/>
<path d="M245,758.3 L245,794.9"/>
<path d="M249.9,759.2 L249.9,794"/>
<path d="M254.8,759.5 L254.8,793.7"/>
<path d="M259.9,760.3 L259.9,792.9"/>
<path d="M266.7,761.1 L266.7,792.1"/>
<path d="M223.2,769.6 H229.4 M223.2,774.8 H229.4 M223.2,778.1 H229.4 M223.2,783.5 H229.4 M233.5,769.6 H239.9 M233.5,774.8 H239.9 M233.5,778.1 H239.9 M233.5,783.5 H239.9 M245,769.6 H249.9 M245,774.8 H249.9 M245,778.1 H249.9 M245,783.5 H249.9 M254.8,769.6 H259.9 M254.8,774.8 H259.9 M254.8,778.1 H259.9 M254.8,783.5 H259.9"/>
<path d="M266.9,769.4 H429.6 C431.3,772.4 431,775.4 429.6,776.9 C427.6,778.9 427.2,782.4 429.6,784.4 H266.9"/>
<path d="M616.4,769.4 H444 C441.4,771.4 441.6,774.4 443.4,776.9 C445.3,779.4 442.6,782.4 444,784.4 H616.4"/>
<path class="c" d="M63.2,776.55 L166.2,776.55"/>
<path class="c" stroke-dasharray="41.1 7.9 8 7.9" stroke-dashoffset="48.5" d="M173,776.55 L426,776.55"/>
<path class="c" d="M433.6,776.55 L441.6,776.55"/>
<path class="c" stroke-dasharray="41.1 7.9 8 7.9" stroke-dashoffset="0" d="M448.6,776.55 L746.6,776.55"/>
<path d="M645.6,760.2 H616.4 V793.2 H645.6"/>
<path d="M645.6,760.2 L645.6,793.2"/>
<path d="M645.6,760.2 L641.2,760.2 Q640.4,758.3 642.6,758.3 L671.3,758.3"/>
<path d="M645.6,793.2 L641.2,793.2 Q640.4,795.2 642.6,795.2 L671.3,795.2"/>
<path d="M671.5,758.3 L671.5,795.2"/>
<rect x="675.5" y="758.5" width="6" height="37" rx="1.8" ry="1.8"/>
<path d="M681.5,764.5 H730.5 V789.5 H681.5"/>
<path d="M671,758.5 L793,758.5"/>
<path d="M674,795.5 L793,795.5"/>
<path d="M788.5,758.3 L788.5,795.3"/>
<path class="a" d="M790,760.8 L790,766.3 L791,766.3 L791,769.6 L786,769.6 L786,766.3 L787,766.3 L787,760.8 Z"/>
<path class="a" d="M787,792.8 L787,787.3 L786,787.3 L786,784 L791,784 L791,787.3 L790,787.3 L790,792.8 Z"/>
<path class="t" stroke-width="0.99" transform="translate(784.6,776.6) rotate(-90)" d="M-9.01,-11.13 L-10.6,-10.6 L-11.13,-9.54 L-11.13,-8.48 L-10.6,-7.42 L-9.54,-6.89 L-7.42,-6.36 L-5.83,-5.83 L-4.77,-4.77 L-4.24,-3.71 L-4.24,-2.12 L-4.77,-1.06 L-5.3,-0.53 L-6.89,0 L-9.01,0 L-10.6,-0.53 L-11.13,-1.06 L-11.66,-2.12 L-11.66,-3.71 L-11.13,-4.77 L-10.07,-5.83 L-8.48,-6.36 L-6.36,-6.89 L-5.3,-7.42 L-4.77,-8.48 L-4.77,-9.54 L-5.3,-10.6 L-6.89,-11.13 L-9.01,-11.13 M-0.27,-0.85 L0.26,-0.85 L0.26,0 L-0.27,0 L-0.27,-0.85 M11.66,-11.13 L6.36,0 M4.24,-11.13 L11.66,-11.13"/>
<path d="M347.5,769.3 L384.5,710.7"/>
<path d="M384.5,710.7 L567.6,710.7"/>
<path class="a" d="M346.99,768.98 L351.07,758.78 L355.46,761.56 L348.01,769.62 Z"/>
<path class="t" stroke-width="0.99" d="M399.15,695.12 L398.62,694.06 L397.56,693 L396.5,692.47 L394.38,692.47 L393.32,693 L392.26,694.06 L391.73,695.12 L391.2,696.71 L391.2,699.36 L391.73,700.95 L392.26,702.01 L393.32,703.07 L394.38,703.6 L396.5,703.6 L397.56,703.07 L398.62,702.01 L399.15,700.95 M408.2,696.18 L408.2,703.6 M408.2,697.77 L407.14,696.71 L406.08,696.18 L404.49,696.18 L403.43,696.71 L402.37,697.77 L401.84,699.36 L401.84,700.42 L402.37,702.01 L403.43,703.07 L404.49,703.6 L406.08,703.6 L407.14,703.07 L408.2,702.01 M411.95,692.47 L411.95,703.6 M411.95,697.77 L413.01,696.71 L414.07,696.18 L415.66,696.18 L416.72,696.71 L417.78,697.77 L418.31,699.36 L418.31,700.42 L417.78,702.01 L416.72,703.07 L415.66,703.6 L414.07,703.6 L413.01,703.07 L411.95,702.01 M421.52,692.47 L421.52,703.6 M424.74,699.36 L431.1,699.36 L431.1,698.3 L430.57,697.24 L430.04,696.71 L428.98,696.18 L427.39,696.18 L426.33,696.71 L425.27,697.77 L424.74,699.36 L424.74,700.42 L425.27,702.01 L426.33,703.07 L427.39,703.6 L428.98,703.6 L430.04,703.07 L431.1,702.01"/>
<path class="t" stroke-width="0.99" d="M443.3,692.47 L443.3,703.6 M446.77,699.36 L453.13,699.36 L453.13,698.3 L452.6,697.24 L452.07,696.71 L451.01,696.18 L449.42,696.18 L448.36,696.71 L447.3,697.77 L446.77,699.36 L446.77,700.42 L447.3,702.01 L448.36,703.07 L449.42,703.6 L451.01,703.6 L452.07,703.07 L453.13,702.01 M456.6,696.18 L456.6,703.6 M456.6,698.3 L458.19,696.71 L459.25,696.18 L460.84,696.18 L461.9,696.71 L462.43,698.3 L462.43,703.6 M472.25,696.18 L472.25,704.66 L471.72,706.25 L471.19,706.78 L470.13,707.31 L468.54,707.31 L467.48,706.78 M472.25,697.77 L471.19,696.71 L470.13,696.18 L468.54,696.18 L467.48,696.71 L466.42,697.77 L465.89,699.36 L465.89,700.42 L466.42,702.01 L467.48,703.07 L468.54,703.6 L470.13,703.6 L471.19,703.07 L472.25,702.01 M476.78,692.47 L476.78,701.48 L477.31,703.07 L478.37,703.6 L479.43,703.6 M475.19,696.18 L478.9,696.18 M482.37,692.47 L482.37,703.6 M482.37,698.3 L483.96,696.71 L485.02,696.18 L486.61,696.18 L487.67,696.71 L488.2,698.3 L488.2,703.6"/>
<path class="t" stroke-width="0.99" d="M502.6,697.45 L503.13,697.45 L503.13,698.3 L502.6,698.3 L502.6,697.45 M502.6,702.75 L503.13,702.75 L503.13,703.6 L502.6,703.6 L502.6,702.75"/>
<path class="t" stroke-width="0.99" d="M520.73,695.12 L520.73,694.59 L521.26,693.53 L521.79,693 L522.85,692.47 L524.97,692.47 L526.03,693 L526.56,693.53 L527.09,694.59 L527.09,695.65 L526.56,696.71 L525.5,698.3 L520.2,703.6 L527.62,703.6 M530.34,696.18 L530.34,703.6 M530.34,698.3 L531.93,696.71 L532.99,696.18 L534.58,696.18 L535.64,696.71 L536.17,698.3 L536.17,703.6 M536.17,698.3 L537.76,696.71 L538.82,696.18 L540.41,696.18 L541.47,696.71 L542,698.3 L542,703.6"/>
<path class="t" stroke-width="0.99" d="M397.05,722.57 L396.81,723.82 L396.15,724.89 L395.15,725.6 L393.97,725.85 L392.8,725.6 L391.8,724.89 L391.13,723.82 L390.9,722.57 L391.13,721.31 L391.8,720.24 L392.8,719.53 L393.97,719.28 L395.15,719.53 L396.15,720.24 L396.81,721.31 L397.05,722.57 M391.32,728.13 L396.62,717"/>
<path class="t" stroke-width="0.99" d="M399.66,716.47 L405.49,716.47 L402.31,720.71 L403.9,720.71 L404.96,721.24 L405.49,721.77 L406.02,723.36 L406.02,724.42 L405.49,726.01 L404.43,727.07 L402.84,727.6 L401.25,727.6 L399.66,727.07 L399.13,726.54 L398.6,725.48 M410.64,726.75 L411.17,726.75 L411.17,727.6 L410.64,727.6 L410.64,726.75 M422.67,718.06 L422.14,717 L420.55,716.47 L419.49,716.47 L417.9,717 L416.84,718.59 L416.31,721.24 L416.31,723.89 L416.84,726.01 L417.9,727.07 L419.49,727.6 L420.02,727.6 L421.61,727.07 L422.67,726.01 L423.2,724.42 L423.2,723.89 L422.67,722.3 L421.61,721.24 L420.02,720.71 L419.49,720.71 L417.9,721.24 L416.84,722.3 L416.31,723.89"/>
<path class="t" stroke-width="0.99" d="M430.01,714.35 L428.95,715.41 L427.89,717 L426.83,719.12 L426.3,721.77 L426.3,723.89 L426.83,726.54 L427.89,728.66 L428.95,730.25 L430.01,731.31"/>
<path class="t" stroke-width="0.99" d="M438,716.47 L432.7,723.89 L440.65,723.89 M438,716.47 L438,727.6 M442.21,720.18 L448.04,727.6 M448.04,720.18 L442.21,727.6 M453.32,716.47 L451.73,717 L450.67,718.59 L450.14,721.24 L450.14,722.83 L450.67,725.48 L451.73,727.07 L453.32,727.6 L454.38,727.6 L455.97,727.07 L457.03,725.48 L457.56,722.83 L457.56,721.24 L457.03,718.59 L455.97,717 L454.38,716.47 L453.32,716.47 M460.45,726.75 L460.98,726.75 L460.98,727.6 L460.45,727.6 L460.45,726.75 M465.46,718.59 L466.52,718.06 L468.11,716.47 L468.11,727.6 M476.03,716.47 L474.44,717 L473.91,718.06 L473.91,719.12 L474.44,720.18 L475.5,720.71 L477.62,721.24 L479.21,721.77 L480.27,722.83 L480.8,723.89 L480.8,725.48 L480.27,726.54 L479.74,727.07 L478.15,727.6 L476.03,727.6 L474.44,727.07 L473.91,726.54 L473.38,725.48 L473.38,723.89 L473.91,722.83 L474.97,721.77 L476.56,721.24 L478.68,720.71 L479.74,720.18 L480.27,719.12 L480.27,718.06 L479.74,717 L478.15,716.47 L476.03,716.47"/>
<path class="t" stroke-width="0.99" d="M484.3,720.18 L484.3,727.6 M484.3,722.3 L485.94,720.71 L487.04,720.18 L488.68,720.18 L489.78,720.71 L490.33,722.3 L490.33,727.6 M490.33,722.3 L491.97,720.71 L493.07,720.18 L494.71,720.18 L495.81,720.71 L496.36,722.3 L496.36,727.6 M500.74,720.18 L500.74,727.6 M500.74,722.3 L502.39,720.71 L503.48,720.18 L505.13,720.18 L506.22,720.71 L506.77,722.3 L506.77,727.6 M506.77,722.3 L508.42,720.71 L509.51,720.18 L511.16,720.18 L512.25,720.71 L512.8,722.3 L512.8,727.6"/>
<path class="t" stroke-width="0.99" d="M517.26,717 L517.26,716.79 L517.53,716.36 L517.79,716.15 L518.32,715.94 L519.38,715.94 L519.91,716.15 L520.18,716.36 L520.44,716.79 L520.44,717.21 L520.18,717.64 L519.65,718.27 L517,720.39 L520.71,720.39"/>
<path class="t" stroke-width="0.99" d="M525.5,714.35 L526.56,715.41 L527.62,717 L528.68,719.12 L529.21,721.77 L529.21,723.89 L528.68,726.54 L527.62,728.66 L526.56,730.25 L525.5,731.31"/>
<path d="M89.5,930.5 L86.1,930.5 L84.2,931.4 L83.5,933.3 L83.5,961.7 L84.2,963.6 L86.1,964.5 L89.5,964.5"/>
<path d="M91.9,918.1 L130.1,918.1 L132.5,920.5 L132.5,975.5 L130.1,977.9 L91.9,977.9 L89.5,975.5 L89.5,920.5 Z"/>
<path d="M91.5,919.6 L91.5,976.5"/>
<path d="M130.5,919.6 L130.5,976.5"/>
<path d="M92,943.5 H130 M92,939.5 H130 M92,936.5 H130 M92,933.5 H130 M92,930.5 H130 M92,927.5 H130 M92,925.5 H130 M92,922.5 H130 M92,920.5 H130 M92,951.5 H130 M92,955.5 H130 M92,959.5 H130 M92,962.5 H130 M92,965.5 H130 M92,968.5 H130 M92,970.5 H130 M92,972.5 H130 M92,974.5 H130 M92,976.5 H130"/>
<path d="M133,930.5 L138.5,930.5"/>
<path d="M133,964.5 L138.5,964.5"/>
<path d="M155.5,920.5 L140.9,920.5 L138.5,922.9 L138.5,973.1 L140.9,975.5 L155.5,975.5"/>
<path d="M140.5,921 L140.5,975"/>
<path d="M155.5,920.5 L155.5,975.5"/>
<path d="M157.5,917 L157.5,978"/>
<path class="a" d="M156,918h3v2h-3z M156,976h3v1h-3z"/>
<path d="M162.5,917 L162.5,978"/>
<path class="a" d="M161,918h3v2h-3z M161,976h3v1h-3z"/>
<path d="M166.5,917 L166.5,978"/>
<path class="a" d="M165,918h3v2h-3z M165,976h3v1h-3z"/>
<path d="M159.5,920 L159.5,976"/>
<path d="M164.5,920 L164.5,976"/>
<path d="M223.2,926.4 L172.5,920.5 L168.5,920.5 L168.5,975.5 L172,975.5 L223.2,968.5"/>
<path d="M143.8,947.5 L150.5,943.5 L150.5,951.5 Z"/>
<path class="a" d="M143,946.5h2v2h-2z"/>
<path d="M223.2,926.4 L223.2,926.4 L229.4,927.2 L229.4,927.3 L233.5,927.6 L233.5,929 L239.9,929.4 L239.9,928.4 L245,929.3 L245,931.2 L249.9,931.4 L249.9,930.2 L254.8,930.5 L254.8,932 L259.9,932.2 L259.9,931.3 L266.7,932.1 L266.7,963.1 L266.7,963.1 L259.9,963.9 L259.9,963 L254.8,963.2 L254.8,964.7 L249.9,965 L249.9,963.8 L245,964 L245,965.9 L239.9,966.8 L239.9,965.8 L233.5,966.2 L233.5,967.6 L229.4,967.9 L229.4,968 L223.2,968.8"/>
<path d="M223.2,926.4 L223.2,968.8"/>
<path d="M229.4,927.2 L229.4,968"/>
<path d="M233.5,927.6 L233.5,967.6"/>
<path d="M239.9,928.4 L239.9,966.8"/>
<path d="M245,929.3 L245,965.9"/>
<path d="M249.9,930.2 L249.9,965"/>
<path d="M254.8,930.5 L254.8,964.7"/>
<path d="M259.9,931.3 L259.9,963.9"/>
<path d="M266.7,932.1 L266.7,963.1"/>
<path d="M223.2,940.6 H229.4 M223.2,945.8 H229.4 M223.2,949.1 H229.4 M223.2,954.5 H229.4 M233.5,940.6 H239.9 M233.5,945.8 H239.9 M233.5,949.1 H239.9 M233.5,954.5 H239.9 M245,940.6 H249.9 M245,945.8 H249.9 M245,949.1 H249.9 M245,954.5 H249.9 M254.8,940.6 H259.9 M254.8,945.8 H259.9 M254.8,949.1 H259.9 M254.8,954.5 H259.9"/>
<path d="M266.9,940.4 H429.6 C431.3,943.4 431,946.4 429.6,947.9 C427.6,949.9 427.2,953.4 429.6,955.4 H266.9"/>
<path d="M616.4,940.4 H444 C441.4,942.4 441.6,945.4 443.4,947.9 C445.3,950.4 442.6,953.4 444,955.4 H616.4"/>
<path class="c" d="M63.2,947.5 L166.2,947.5"/>
<path class="c" stroke-dasharray="41.1 7.9 8 7.9" stroke-dashoffset="48.5" d="M173,947.5 L426,947.5"/>
<path class="c" d="M433.6,947.5 L441.6,947.5"/>
<path class="c" stroke-dasharray="41.1 7.9 8 7.9" stroke-dashoffset="0" d="M448.6,947.5 L746.6,947.5"/>
<path d="M645.6,931.3 H616.4 V964.6 H645.6"/>
<path d="M671.3,916.4 H647.8 Q645.6,916.4 645.6,918.6 V966 Q645.4,967.6 642,967.9 Q639.6,968.4 639.6,970.6 V984.6 Q639.8,987.4 642.6,987.5 H671.3"/>
<path d="M671.5,916.4 L671.5,987.5"/>
<rect x="675.5" y="916.5" width="6" height="71" rx="1.8" ry="1.8"/>
<path d="M681.5,926.5 H730.5 V977.5 H681.5"/>
<path class="a" d="M694,977.5 H697.8 L697,979.2 H694.8 Z"/>
<path d="M671,916.5 L793,916.5"/>
<path d="M674,987.5 L793,987.5"/>
<path d="M788.5,916.4 L788.5,987.5"/>
<path class="a" d="M790,918.9 L790,924.4 L791,924.4 L791,927.7 L786,927.7 L786,924.4 L787,924.4 L787,918.9 Z"/>
<path class="a" d="M787,985 L787,979.5 L786,979.5 L786,976.2 L791,976.2 L791,979.5 L790,979.5 L790,985 Z"/>
<path class="t" stroke-width="0.99" transform="translate(784.6,952.6) rotate(-90)" d="M-16.17,-9.01 L-15.11,-9.54 L-13.52,-11.13 L-13.52,0 M-0.27,-9.54 L-0.8,-10.6 L-2.39,-11.13 L-3.45,-11.13 L-5.04,-10.6 L-6.1,-9.01 L-6.62,-6.36 L-6.62,-3.71 L-6.1,-1.59 L-5.04,-0.53 L-3.45,0 L-2.92,0 L-1.32,-0.53 L-0.27,-1.59 L0.26,-3.18 L0.26,-3.71 L-0.27,-5.3 L-1.32,-6.36 L-2.92,-6.89 L-3.45,-6.89 L-5.04,-6.36 L-6.1,-5.3 L-6.62,-3.71 M4.24,-0.85 L4.77,-0.85 L4.77,0 L4.24,0 L4.24,-0.85 M16.17,-11.13 L10.87,0 M8.75,-11.13 L16.17,-11.13"/>
<path d="M83.4,867.5 L83.4,928.5"/>
<path d="M266.4,867.8 L266.4,928.5"/>
<path d="M83.4,872.4 L266.4,872.4"/>
<path class="a" d="M85.9,871 L91.4,871 L91.4,870 L94.7,870 L94.7,875 L91.4,875 L91.4,874 L85.9,874 Z"/>
<path class="a" d="M263.9,874 L258.4,874 L258.4,875 L255.1,875 L255.1,870 L258.4,870 L258.4,871 L263.9,871 Z"/>
<path class="t" stroke-width="0.99" d="M171.7,857.37 L166.4,864.79 L174.35,864.79 M171.7,857.37 L171.7,868.5 M177.14,857.37 L182.97,857.37 L179.79,861.61 L181.38,861.61 L182.44,862.14 L182.97,862.67 L183.5,864.26 L183.5,865.32 L182.97,866.91 L181.91,867.97 L180.32,868.5 L178.73,868.5 L177.14,867.97 L176.61,867.44 L176.08,866.38"/>
<path d="M616.4,867.5 L616.4,926.5"/>
<path d="M730.7,867.5 L730.7,923.3"/>
<path d="M616.4,872.4 L730.7,872.4"/>
<path class="a" d="M618.9,871 L624.4,871 L624.4,870 L627.7,870 L627.7,875 L624.4,875 L624.4,874 L618.9,874 Z"/>
<path class="a" d="M728.2,874 L722.7,874 L722.7,875 L719.4,875 L719.4,870 L722.7,870 L722.7,871 L728.2,871 Z"/>
<path class="t" stroke-width="0.99" d="M657.33,860.02 L657.33,859.49 L657.86,858.43 L658.39,857.9 L659.45,857.37 L661.57,857.37 L662.63,857.9 L663.16,858.43 L663.69,859.49 L663.69,860.55 L663.16,861.61 L662.1,863.2 L656.8,868.5 L664.22,868.5 M674.06,858.96 L673.53,857.9 L671.94,857.37 L670.88,857.37 L669.29,857.9 L668.23,859.49 L667.7,862.14 L667.7,864.79 L668.23,866.91 L669.29,867.97 L670.88,868.5 L671.41,868.5 L673,867.97 L674.06,866.91 L674.59,865.32 L674.59,864.79 L674.06,863.2 L673,862.14 L671.41,861.61 L670.88,861.61 L669.29,862.14 L668.23,863.2 L667.7,864.79 M678.33,867.65 L678.87,867.65 L678.87,868.5 L678.33,868.5 L678.33,867.65 M689.5,861.08 L688.97,862.67 L687.91,863.73 L686.32,864.26 L685.79,864.26 L684.2,863.73 L683.14,862.67 L682.61,861.08 L682.61,860.55 L683.14,858.96 L684.2,857.9 L685.79,857.37 L686.32,857.37 L687.91,857.9 L688.97,858.96 L689.5,861.08 L689.5,863.73 L688.97,866.38 L687.91,867.97 L686.32,868.5 L685.26,868.5 L683.67,867.97 L683.14,866.91"/>
<path d="M36.9,918.4 L87.8,918.4"/>
<path d="M36.9,977.4 L87.8,977.4"/>
<path d="M41.6,918.4 L41.6,977.4"/>
<path class="a" d="M43,920.9 L43,926.4 L44,926.4 L44,929.7 L39,929.7 L39,926.4 L40,926.4 L40,920.9 Z"/>
<path class="a" d="M40,974.9 L40,969.4 L39,969.4 L39,966.1 L44,966.1 L44,969.4 L43,969.4 L43,974.9 Z"/>
<path class="t" stroke-width="0.99" transform="translate(37.8,947.9) rotate(-90)" d="M-7.58,-5.04 L-7.81,-3.78 L-8.48,-2.71 L-9.48,-2 L-10.65,-1.75 L-11.83,-2 L-12.83,-2.71 L-13.49,-3.78 L-13.73,-5.04 L-13.49,-6.29 L-12.83,-7.36 L-11.83,-8.07 L-10.65,-8.32 L-9.48,-8.07 L-8.48,-7.36 L-7.81,-6.29 L-7.58,-5.04 M-13.3,0.53 L-8,-10.6 M-3.23,-9.01 L-2.17,-9.54 L-0.58,-11.13 L-0.58,0 M11.08,-11.13 L5.78,-3.71 L13.73,-3.71 M11.08,-11.13 L11.08,0"/>
</svg>
</body></html>
